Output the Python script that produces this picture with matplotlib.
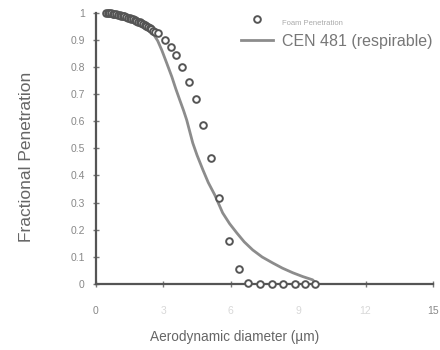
import matplotlib
matplotlib.use("Agg")
import matplotlib.pyplot as plt

plt.rcParams['font.family'] = ['Liberation Sans', 'DejaVu Sans']

# Foam penetration measurements (diameter in um, fractional penetration)
foam_d = [0.45, 0.52, 0.6, 0.67, 0.75, 0.82, 0.9, 0.97, 1.05, 1.12, 1.2, 1.27,
          1.35, 1.42, 1.5, 1.57, 1.65, 1.72, 1.8, 1.87, 1.95, 2.02, 2.1, 2.17,
          2.25, 2.32, 2.4, 2.47, 2.55, 2.62,
          2.76, 3.07, 3.33, 3.56, 3.82, 4.13, 4.44, 4.76, 5.11, 5.47,
          5.91, 6.36, 6.76, 7.29, 7.82, 8.31, 8.84, 9.29, 9.73]
foam_p = [1.0, 1.0, 0.999, 0.998, 0.997, 0.996, 0.995, 0.993, 0.992, 0.990,
          0.989, 0.987, 0.985, 0.983, 0.981, 0.979, 0.976, 0.974, 0.971, 0.968,
          0.965, 0.962, 0.958, 0.955, 0.951, 0.947, 0.943, 0.939, 0.934, 0.930,
          0.926, 0.900, 0.875, 0.845, 0.800, 0.745, 0.683, 0.587, 0.465, 0.317,
          0.159, 0.055, 0.004, 0.0, 0.0, 0.0, 0.0, 0.0, 0.0]

# CEN 481 respirable convention
cen_d = [0.4, 1.0, 1.5, 2.0, 2.3, 2.53, 2.75, 2.93, 3.15, 3.38, 3.55, 3.73,
         3.9, 4.04, 4.31, 4.5, 4.76, 5.0, 5.29, 5.64, 5.95, 6.27, 6.6, 6.98,
         7.4, 7.87, 8.3, 8.76, 9.2, 9.64, 9.78]
cen_p = [1.0, 0.995, 0.982, 0.967, 0.948, 0.926, 0.897, 0.863, 0.815, 0.764,
         0.721, 0.679, 0.640, 0.605, 0.520, 0.475, 0.421, 0.374, 0.328, 0.262,
         0.222, 0.188, 0.155, 0.125, 0.099, 0.077, 0.058, 0.041, 0.027, 0.015,
         0.004]

x_ticks = [0, 3, 6, 9, 12, 15]
y_ticks = [0, 0.1, 0.2, 0.3, 0.4, 0.5, 0.6, 0.7, 0.8, 0.9, 1]
y_labels = ['0', '0.1', '0.2', '0.3', '0.4', '0.5', '0.6', '0.7', '0.8', '0.9', '1']

fig = plt.figure(figsize=(4.4, 3.5), dpi=100)
ax = fig.add_axes([0.218, 0.189, 0.766, 0.774])

ax.plot(cen_d, cen_p, color='#8c8c8c', lw=2.0, label='CEN 481 (respirable)', zorder=2)
ax.plot(foam_d, foam_p, linestyle='none', marker='o', markersize=4.8,
        markerfacecolor='white', markeredgecolor='#555555', markeredgewidth=1.4,
        label='Foam Penetration', clip_on=False, zorder=3)

ax.set_xlim(0, 15)
ax.set_ylim(0, 1)
ax.set_xticks(x_ticks)
ax.set_yticks(y_ticks)
ax.set_yticklabels(y_labels)

for side in ['top', 'right']:
    ax.spines[side].set_visible(False)
for side in ['left', 'bottom']:
    ax.spines[side].set_color('#555555')
    ax.spines[side].set_linewidth(1.6)

ax.tick_params(direction='inout', length=4, width=1, color='#777777',
               labelsize=7.5, labelcolor='#888888', pad=6)
ax.tick_params(axis='x', pad=14)
for lbl in ax.get_xticklabels()[1:-1]:
    lbl.set_color('#d8d8d8')

ax.set_xlabel('Aerodynamic diameter (\u00b5m)', fontsize=9.8, color='#666666')
ax.xaxis.set_label_coords(0.413, -0.17)
ax.set_ylabel('Fractional Penetration', fontsize=12.5, color='#666666')
ax.yaxis.set_label_coords(-0.185, 0.469)

handles, labels = ax.get_legend_handles_labels()
leg = ax.legend(handles[::-1], labels[::-1], loc='upper left',
                bbox_to_anchor=(0.533, 0.98), bbox_transform=fig.transFigure,
                frameon=False, fontsize=11.5, handlelength=2.0, handletextpad=0.6,
                labelspacing=0.45, borderaxespad=0)
texts = leg.get_texts()
texts[0].set_fontsize(5.5)
texts[0].set_color('#aaaaaa')
texts[1].set_color('#777777')

fig.savefig('out.png', dpi=100)
